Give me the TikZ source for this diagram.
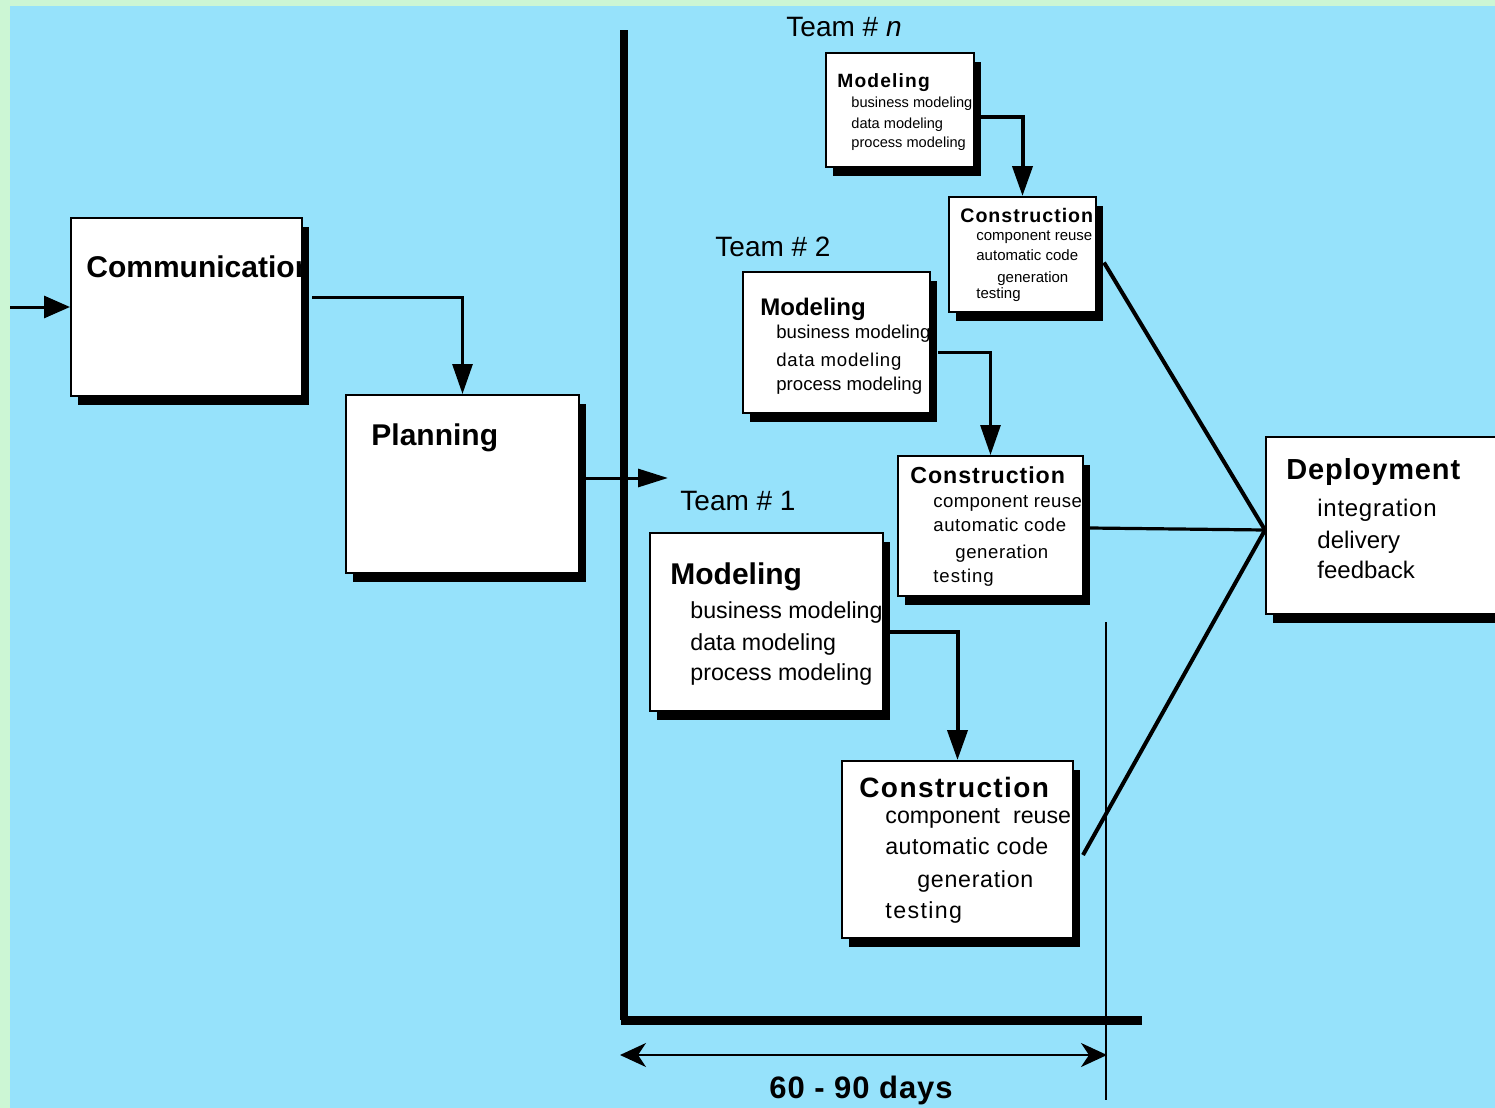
\documentclass[tikz,border=0pt]{standalone}
\usepackage{fontspec}
\setmainfont{Liberation Sans}
\usetikzlibrary{arrows.meta,shadows,fit,calc}
\definecolor{bggreen}{RGB}{204,246,212}
\definecolor{bgblue}{RGB}{150,226,251}
\begin{document}
\begin{tikzpicture}[x=0.5pt,y=-0.5pt,
  box/.style={draw=black, fill=white, line width=1pt, inner sep=0pt,
    drop shadow={shadow xshift=3.5pt, shadow yshift=-4.5pt, fill=black, opacity=1}},
  lbl/.style={anchor=base west, inner sep=0pt},
  head/.style={lbl, font=\bfseries\fontsize{#1}{#1}\selectfont},
  item/.style={lbl, font=\fontsize{#1}{#1}\selectfont},
  team/.style={lbl, font=\fontsize{14}{16}\selectfont},
  conn/.style={line width=1.5pt, -{Triangle[length=15pt,width=10pt]}},
  fan/.style={line width=2pt},
]
\clip (0,0) rectangle (1495,1108);
\fill[bggreen] (0,0) rectangle (1495,1108);
\fill[bgblue] (10,6) rectangle (1495,1108);

% big frame lines
\draw[line width=3.75pt] (624,30) -- (624,1020);
\draw[line width=4.5pt] (621,1020) -- (1142,1020);
\draw[line width=1pt] (1106,622) -- (1106,1100);

% boxes
\node[box, fit={(71,218) (302,396)}] (comm) {};
\node[box, fit={(346,395) (579,573)}] (plan) {};
\node[box, fit={(826,53) (974,167)}] (mn) {};
\node[box, fit={(949,197) (1096,312)}] (cn) {};
\node[box, fit={(743,272) (930,413)}] (m2) {};
\node[box, fit={(898,456) (1083,596)}] (c2) {};
\node[box, fit={(650,533) (883,711)}] (m1) {};
\node[box, fit={(842,761) (1073,938)}] (c1) {};
\node[box, fit={(1266,437) (1530,614)}] (dep) {};

% texts
\begin{scope}
  \clip (71,218) rectangle (302,396);
  \node[head=15] (commt) at (86,277) {Communication};
\end{scope}
\node[head=15] (plant) at (371,445) {Planning};

\node[team] (tn) at (786,36) {Team \# \textit{n}};
\node[team] (t2) at (715,256) {Team \# 2};
\node[team] (t1) at (680,510) {Team \# 1};

% team n
\node[head=9.6] (mnh) at (837,87) {\addfontfeature{LetterSpace=6}Modeling};
\node[item=7.3] (mna) at (851,107) {business modeling};
\node[item=7.3] (mnb) at (851,128) {data modeling};
\node[item=7.3] (mnc) at (851,147) {process modeling};
\node[head=9.8] (cnh) at (960,222) {\addfontfeature{LetterSpace=5}Construction};
\node[item=7.5] (cna) at (976,240) {component reuse};
\node[item=7.5] (cnb) at (976,260) {automatic code};
\node[item=7.5] (cnc) at (997,282) {generation};
\node[item=7.5] (cnd) at (976,298) {testing};

% team 2
\node[head=12] (m2h) at (760,315) {Modeling};
\node[item=9.3] (m2a) at (776,338) {business modeling};
\node[item=9.3] (m2b) at (776,366) {\addfontfeature{LetterSpace=4}data modeling};
\node[item=9.3] (m2c) at (776,390) {process modeling};
\node[head=11.6] (c2h) at (910,483) {\addfontfeature{LetterSpace=4}Construction};
\node[item=9.3] (c2a) at (933,507) {\addfontfeature{LetterSpace=2}component reuse};
\node[item=9.3] (c2b) at (933,531) {\addfontfeature{LetterSpace=3}automatic code};
\node[item=9.3] (c2c) at (955,558) {\addfontfeature{LetterSpace=3}generation};
\node[item=9.3] (c2d) at (933,582) {\addfontfeature{LetterSpace=5}testing};

% team 1
\node[head=15] (m1h) at (670,584) {Modeling};
\node[item=11.6] (m1a) at (690,618) {business modeling};
\node[item=11.6] (m1b) at (690,650) {data modeling};
\node[item=11.6] (m1c) at (690,680) {process modeling};
\node[head=14] (c1h) at (859,797) {\addfontfeature{LetterSpace=5}Construction};
\node[item=11.6] (c1a) at (885,823) {component\ \ reuse};
\node[item=11.6] (c1b) at (885,854) {\addfontfeature{LetterSpace=2}automatic code};
\node[item=11.6] (c1c) at (917,887) {\addfontfeature{LetterSpace=3}generation};
\node[item=11.6] (c1d) at (885,918) {\addfontfeature{LetterSpace=6}testing};

% deployment
\node[head=14.5] (deph) at (1286,479) {\addfontfeature{LetterSpace=3}Deployment};
\node[item=12] (depa) at (1317,516) {\addfontfeature{LetterSpace=3}integration};
\node[item=12] (depb) at (1317,548) {delivery};
\node[item=12] (depc) at (1317,578) {feedback};

% connectors
\coordinate (in) at (10,307);
\draw[line width=1.5pt, -{Triangle[length=13pt,width=11pt]}] (in) -- (comm.west);
\draw[conn] ($(comm.east)+(9,-10)$) -| (plan.north);
\coordinate (tm1) at (668,478);
\draw[line width=1.5pt, -{Triangle[length=15pt,width=9pt]}] ($(plan.east)+(6,-6)$) -- (tm1);

\draw[conn, line width=2pt] ($(m1.east)+(6,10)$) -| (c1.north);
\draw[conn] ($(m2.east)+(7,10)$) -| (c2.north);
\draw[conn, line width=2pt] ($(mn.east)+(6,7)$) -| (cn.north);

\draw[fan] ($(cn.east)+(7,8)$) -- ($(dep.west)+(0,4.5)$);
\draw[fan, line width=1.6pt] ($(c2.east)+(6,2)$) -- ($(dep.west)+(0,4.5)$);
\draw[fan] ($(c1.east)+(9,5.5)$) -- ($(dep.west)+(0,4.5)$);

% dimension
\coordinate (dl) at (620,1055);
\coordinate (dr) at (1107,1055);
\draw[line width=1pt, {Stealth[length=13pt,width=12pt,inset=4pt]}-{Stealth[length=13pt,width=12pt,inset=4pt]}] (dl) -- (dr);
\node[anchor=base, inner sep=0pt, font=\bfseries\fontsize{15.5}{18}\selectfont] (days) at (861,1098) {\addfontfeature{LetterSpace=3}60 - 90 days};
\end{tikzpicture}
\end{document}
